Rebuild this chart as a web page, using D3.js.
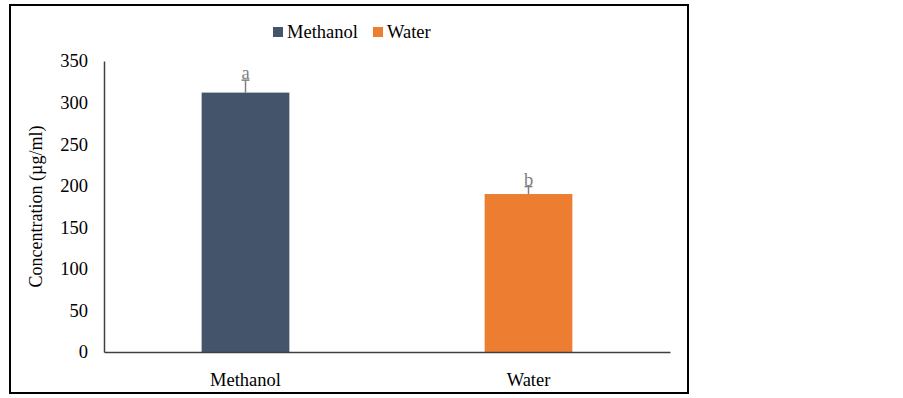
<!DOCTYPE html>
<html>
<head>
<meta charset="utf-8">
<script src="https://cdn.jsdelivr.net/npm/d3@7"></script>
<style>
  body { margin: 0; background: #fff; }
</style>
</head>
<body>
<div id="main"></div>
<script>
const categories = ['Methanol', 'Water'];
const values = [312, 190];
const errors = [15, 9];
const letters = ['a', 'b'];
const colors = ['#44546A', '#ED7D31'];
const yTicks = [0, 50, 100, 150, 200, 250, 300, 350];

const width = 903;
const height = 398;
const margin = { top: 61, right: 233, bottom: 46, left: 104 };
const serif = '"Liberation Serif", "Times New Roman", "DejaVu Serif", serif';
const fs = '18.5px';

const svg = d3.select('#main').append('svg')
  .attr('width', width)
  .attr('height', height)
  .style('font-family', serif);

// outer frame
svg.append('rect')
  .attr('x', 10).attr('y', 5)
  .attr('width', 678).attr('height', 388)
  .attr('fill', 'none')
  .attr('stroke', '#000')
  .attr('stroke-width', 2);

const x = d3.scaleBand()
  .domain(categories)
  .range([margin.left, width - margin.right])
  .paddingInner(0.69)
  .paddingOuter(0.345);

const y = d3.scaleLinear()
  .domain([0, 350])
  .range([height - margin.bottom, margin.top]);

// y axis
const yAxis = svg.append('g')
  .attr('transform', `translate(${margin.left},0)`)
  .call(d3.axisLeft(y).tickValues(yTicks).tickSize(0).tickPadding(16));
yAxis.attr('font-family', null).attr('font-size', null);
yAxis.select('.domain').attr('stroke', '#404040').attr('stroke-width', 1.5);
yAxis.selectAll('text').style('font-size', fs).style('font-family', serif).attr('fill', '#000');

// bars
svg.selectAll('rect.bar')
  .data(categories)
  .enter()
  .append('rect')
  .attr('class', 'bar')
  .attr('x', (d) => x(d))
  .attr('width', x.bandwidth())
  .attr('y', (d, i) => y(values[i]))
  .attr('height', (d, i) => y(0) - y(values[i]))
  .attr('fill', (d, i) => colors[i]);

// error bars
const err = svg.selectAll('g.err')
  .data(categories)
  .enter()
  .append('g')
  .attr('class', 'err')
  .attr('stroke', '#7f7f7f')
  .attr('stroke-width', 1.5);
err.append('line')
  .attr('x1', (d) => x(d) + x.bandwidth() / 2)
  .attr('x2', (d) => x(d) + x.bandwidth() / 2)
  .attr('y1', (d, i) => y(values[i]))
  .attr('y2', (d, i) => y(values[i] + errors[i]));
err.append('line')
  .attr('x1', (d) => x(d) + x.bandwidth() / 2 - 4)
  .attr('x2', (d) => x(d) + x.bandwidth() / 2 + 4)
  .attr('y1', (d, i) => y(values[i] + errors[i]))
  .attr('y2', (d, i) => y(values[i] + errors[i]));

// significance letters
svg.selectAll('text.letter')
  .data(categories)
  .enter()
  .append('text')
  .attr('class', 'letter')
  .attr('x', (d) => x(d) + x.bandwidth() / 2)
  .attr('y', (d, i) => y(values[i] + errors[i]) - 1)
  .attr('text-anchor', 'middle')
  .style('font-size', fs)
  .style('font-family', serif)
  .attr('fill', '#7f7f7f')
  .text((d, i) => letters[i]);

// x axis
const xAxis = svg.append('g')
  .attr('transform', `translate(0,${y(0)})`)
  .call(d3.axisBottom(x).tickSize(0).tickPadding(21));
xAxis.attr('font-family', null).attr('font-size', null);
xAxis.select('.domain').attr('stroke', '#404040').attr('stroke-width', 1.5);
xAxis.selectAll('text').style('font-size', fs).style('font-family', serif).attr('fill', '#000');

// y title
svg.append('text')
  .attr('transform', `translate(42,${(margin.top + y(0)) / 2}) rotate(-90)`)
  .attr('text-anchor', 'middle')
  .style('font-size', '18px')
  .style('font-family', serif)
  .text('Concentration (µg/ml)');

// legend
const legend = svg.append('g').attr('transform', 'translate(273,32)');
const legendX = [0, 100];
categories.forEach((c, i) => {
  const g = legend.append('g').attr('transform', `translate(${legendX[i]},0)`);
  g.append('rect')
    .attr('x', 0).attr('y', -5)
    .attr('width', 10).attr('height', 10)
    .attr('fill', colors[i]);
  g.append('text')
    .attr('x', 14).attr('y', 6)
    .style('font-size', fs)
    .style('font-family', serif)
    .text(c);
});
</script>
</body>
</html>
